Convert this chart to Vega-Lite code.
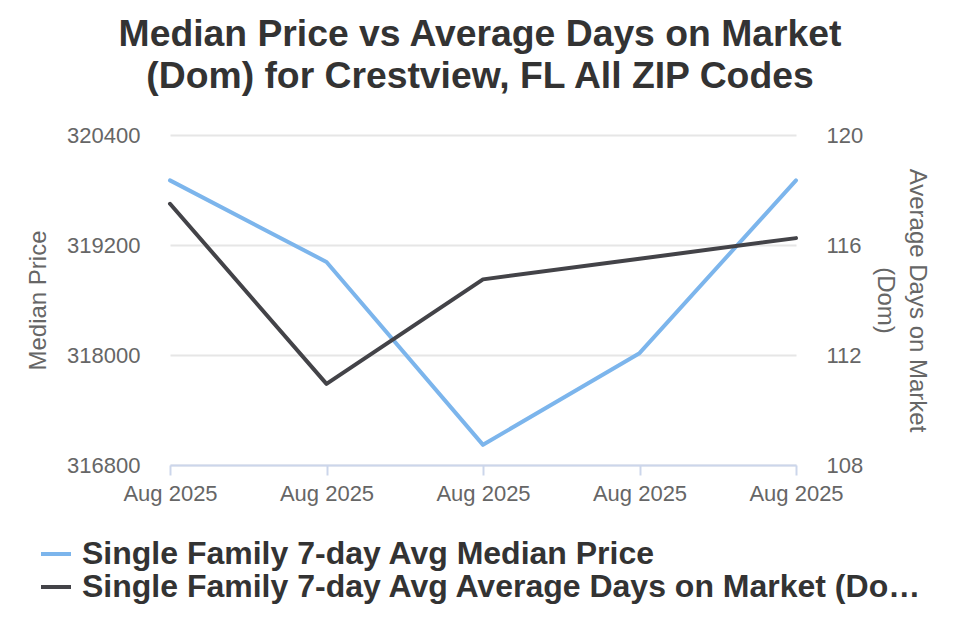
{
  "$schema": "https://vega.github.io/schema/vega-lite/v6.json",
  "autosize": "none",
  "width": 626,
  "height": 330,
  "padding": {"left": 170, "top": 135, "right": 164, "bottom": 175},
  "background": "#ffffff",
  "config": {
    "font": "Liberation Sans",
    "view": {"stroke": null}
  },
  "title": {
    "text": ["Median Price vs Average Days on Market", "(Dom) for Crestview, FL All ZIP Codes"],
    "fontSize": 37.3,
    "fontWeight": "bold",
    "color": "#333333",
    "lineHeight": 42,
    "anchor": "middle",
    "offset": 28,
    "dx": -3
  },
  "data": {
    "values": [
      {"date": "2025-08-03", "series": "Single Family 7-day Avg Median Price", "value": 319905},
      {"date": "2025-08-10", "series": "Single Family 7-day Avg Median Price", "value": 319015},
      {"date": "2025-08-17", "series": "Single Family 7-day Avg Median Price", "value": 317020},
      {"date": "2025-08-24", "series": "Single Family 7-day Avg Median Price", "value": 318020},
      {"date": "2025-08-31", "series": "Single Family 7-day Avg Median Price", "value": 319905},
      {"date": "2025-08-03", "series": "Single Family 7-day Avg Average Days on Market (Dom)", "value": 117.5},
      {"date": "2025-08-10", "series": "Single Family 7-day Avg Average Days on Market (Dom)", "value": 110.95},
      {"date": "2025-08-17", "series": "Single Family 7-day Avg Average Days on Market (Dom)", "value": 114.75},
      {"date": "2025-08-24", "series": "Single Family 7-day Avg Average Days on Market (Dom)", "value": 115.5},
      {"date": "2025-08-31", "series": "Single Family 7-day Avg Average Days on Market (Dom)", "value": 116.25}
    ]
  },
  "encoding": {
    "x": {
      "field": "date",
      "type": "ordinal",
      "scale": {"type": "point", "padding": 0},
      "axis": {
        "title": null,
        "labelAngle": 0,
        "labelExpr": "utcFormat(toDate(datum.value), '%b %Y')",
        "labelFontSize": 22,
        "labelColor": "#666666",
        "labelPadding": 8,
        "domainColor": "#ccd6eb",
        "domainWidth": 2,
        "tickColor": "#ccd6eb",
        "tickWidth": 2,
        "tickSize": 10,
        "grid": false
      }
    },
    "color": {
      "field": "series",
      "type": "nominal",
      "scale": {
        "domain": ["Single Family 7-day Avg Median Price", "Single Family 7-day Avg Average Days on Market (Dom)"],
        "range": ["#7cb5ec", "#434348"]
      },
      "legend": {
        "title": null,
        "orient": "none",
        "legendX": -131,
        "legendY": 402,
        "direction": "vertical",
        "symbolType": "stroke",
        "symbolSize": 900,
        "symbolStrokeWidth": 4,
        "labelFontSize": 32,
        "labelFontWeight": "bold",
        "labelColor": "#333333",
        "labelLimit": 900,
        "labelExpr": "length(datum.value) > 45 ? substring(datum.value, 0, 50) + '…' : datum.value",
        "labelOffset": 9,
        "rowPadding": -3
      }
    }
  },
  "layer": [
    {
      "transform": [{"filter": "datum.series === 'Single Family 7-day Avg Median Price'"}],
      "mark": {"type": "line", "strokeWidth": 4, "strokeCap": "round", "strokeJoin": "round"},
      "encoding": {
        "y": {
          "field": "value",
          "type": "quantitative",
          "scale": {"domain": [316800, 320400], "nice": false, "zero": false},
          "axis": {
            "title": "Median Price",
            "titleFontSize": 24,
            "titleFontWeight": "normal",
            "titleColor": "#666666",
            "titlePadding": 16,
            "values": [316800, 318000, 319200, 320400],
            "format": "d",
            "labelFontSize": 22,
            "labelColor": "#666666",
            "labelPadding": 30,
            "ticks": false,
            "domain": false,
            "grid": true,
            "gridColor": "#e6e6e6",
            "gridWidth": 2
          }
        }
      }
    },
    {
      "transform": [{"filter": "datum.series !== 'Single Family 7-day Avg Median Price'"}],
      "mark": {"type": "line", "strokeWidth": 4, "strokeCap": "round", "strokeJoin": "round"},
      "encoding": {
        "y": {
          "field": "value",
          "type": "quantitative",
          "scale": {"domain": [108, 120], "nice": false, "zero": false},
          "axis": {
            "orient": "right",
            "title": ["Average Days on Market", "(Dom)"],
            "titleFontSize": 24,
            "titleFontWeight": "normal",
            "titleColor": "#666666",
            "titlePadding": 10,
            "titleLineHeight": 32,
            "values": [108, 112, 116, 120],
            "labelFontSize": 22,
            "labelColor": "#666666",
            "labelPadding": 30,
            "ticks": false,
            "domain": false,
            "grid": false
          }
        }
      }
    }
  ],
  "resolve": {"scale": {"y": "independent"}}
}
